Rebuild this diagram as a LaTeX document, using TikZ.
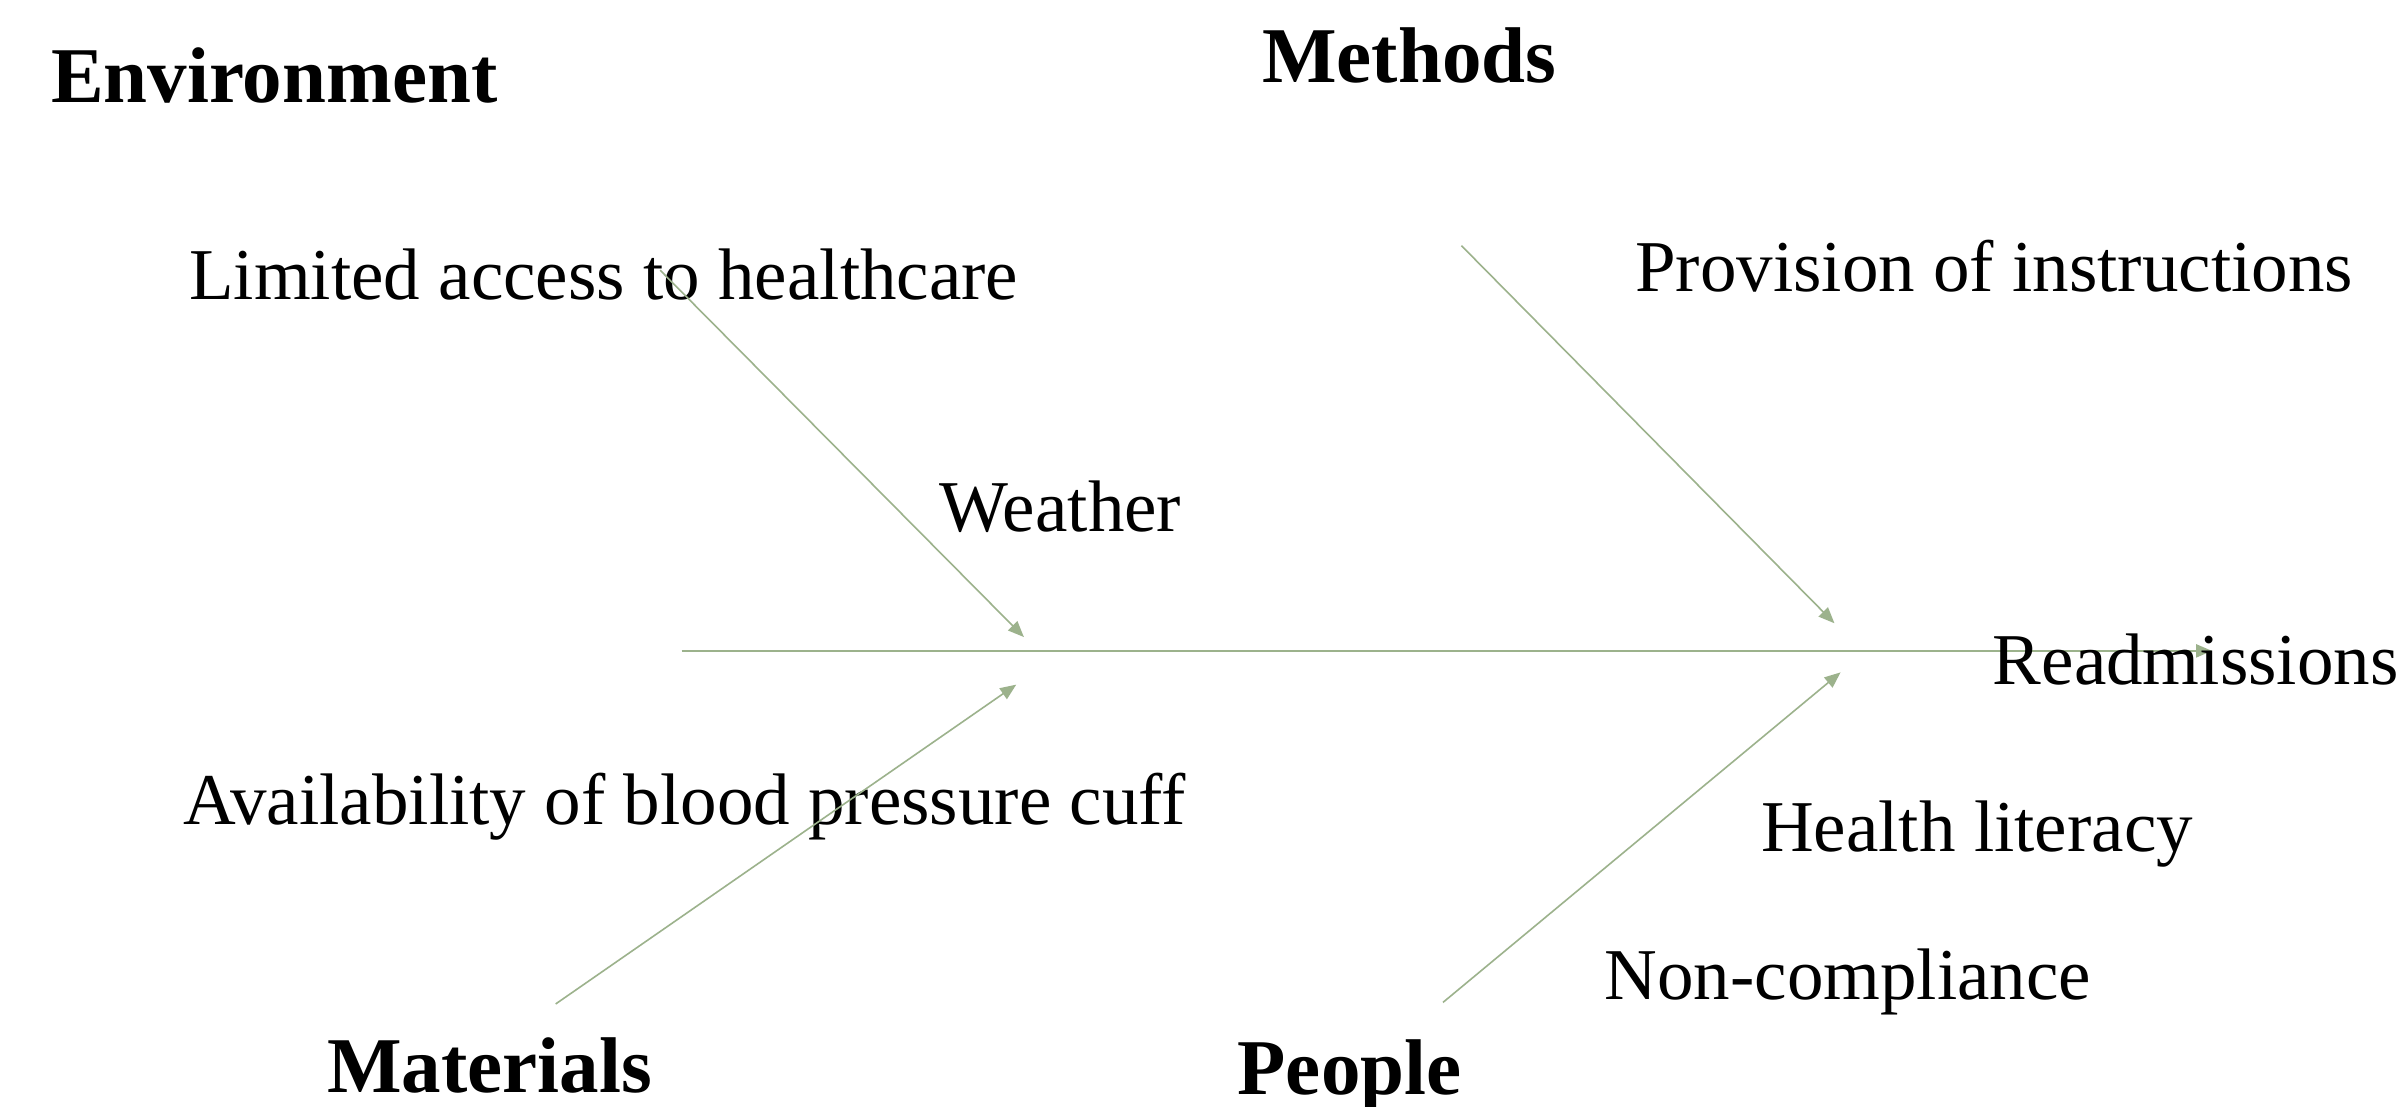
\documentclass[tikz,border=0pt]{standalone}
\usepackage{fontspec}
\setmainfont{Liberation Serif}
\usetikzlibrary{arrows.meta}
\definecolor{sage}{RGB}{156,178,140}
\begin{document}
\begin{tikzpicture}[x=0.7675pt,y=-0.7675pt,
  lbl/.style={anchor=base west,inner sep=0pt,font=\fontsize{36.5}{40}\selectfont},
  cat/.style={anchor=base west,inner sep=0pt,font=\fontsize{39.5}{44}\selectfont\bfseries},
  bone/.style={draw=sage,line width=0.8pt,-{Triangle[length=8pt,width=6.5pt]}},
  spine/.style={draw=sage,line width=1.1pt,-{Triangle[length=8pt,width=6.5pt]}}]
\useasboundingbox[fill=white] (0,0) rectangle (1568,721);
% categories
\node[cat] (env) at (33,67) {Environment};
\node[cat] (met) at (822,54) {Methods};
\node[cat] (mat) at (213,712) {Materials};
\node[cat] (peo) at (806,713) {People};
% causes
\node[lbl] (lim) at (123,195) {Limited access to healthcare};
\node[lbl] (pro) at (1065,190) {Provision of instructions};
\node[lbl] (wea) at (612,346) {Weather};
\node[lbl] (ava) at (119,537) {Availability of blood pressure cuff};
\node[lbl] (hea) at (1147,555) {Health literacy};
\node[lbl] (non) at (1045,651) {Non-compliance};
% connector end points
\coordinate (s0) at (444,424);
\coordinate (s1) at (1441,424);
\coordinate (e0) at (430,176);
\coordinate (e1) at (667,415);
\coordinate (m0) at (952,160);
\coordinate (m1) at (1195,406);
\coordinate (a0) at (362,654);
\coordinate (a1) at (662,446);
\coordinate (p0) at (940,653);
\coordinate (p1) at (1199,438);
\draw[spine] (s0) -- (s1);
\draw[bone] (e0) -- (e1);
\draw[bone] (m0) -- (m1);
\draw[bone] (a0) -- (a1);
\draw[bone] (p0) -- (p1);
\node[lbl] (rea) at (1298,446) {Readmissions};
\end{tikzpicture}
\end{document}
